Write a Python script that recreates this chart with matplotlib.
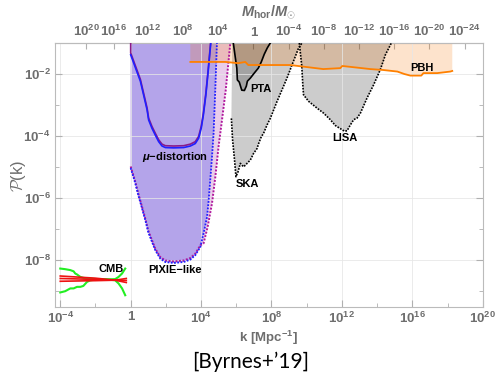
import numpy as np
import matplotlib
matplotlib.use('Agg')
import matplotlib.pyplot as plt
from matplotlib.ticker import FixedLocator, NullLocator, NullFormatter

plt.rcParams['font.family'] = ['Liberation Sans', 'DejaVu Sans']
plt.rcParams['font.weight'] = 'bold'
plt.rcParams['mathtext.fontset'] = 'custom'
plt.rcParams['mathtext.rm'] = 'Liberation Sans:bold'
plt.rcParams['mathtext.bf'] = 'Liberation Sans:bold'
plt.rcParams['mathtext.it'] = 'Liberation Sans:italic:bold'
plt.rcParams['mathtext.cal'] = 'cmsy10'

# all values are log10(k / Mpc^-1) and log10(P)
cmb_up_logk = [-4.0, -3.72, -3.43, -3.24, -3.15, -3.05, -2.86, -2.69, -2.41, -1.92, -1.35, -0.88, -0.69, -0.49, -0.31]
cmb_up_logP = [-8.27, -8.29, -8.32, -8.36, -8.43, -8.46, -8.54, -8.57, -8.59, -8.61, -8.62, -8.61, -8.54, -8.43, -8.27]
cmb_lo_logk = [-4.0, -3.72, -3.43, -3.24, -3.05, -2.86, -2.69, -2.48, -2.30, -1.92, -1.35, -0.88, -0.69, -0.49, -0.31]
cmb_lo_logP = [-9.04, -9.00, -8.91, -8.91, -8.86, -8.86, -8.83, -8.70, -8.65, -8.62, -8.62, -8.65, -8.75, -8.91, -9.13]
red_logk = [-4.0, -2.0, -0.88, -0.25]
red_a = [-8.51, -8.58, -8.645, -8.72]
red_b = [-8.68, -8.66, -8.645, -8.59]
red_c = [-8.59, -8.62, -8.645, -8.655]

pixie_logk = [0.0, 0.26, 0.43, 0.64, 0.83, 1.0, 1.21, 1.40, 1.68, 1.97, 2.44, 3.01, 3.39, 3.67, 3.96,
              4.14, 4.34, 4.43, 4.52, 4.62, 4.71, 4.81, 4.90]
pixie_logP = [-5.03, -5.52, -5.90, -6.32, -6.71, -7.10, -7.41, -7.68, -7.95, -8.06, -8.09, -8.06, -7.98, -7.84, -7.57,
              -7.14, -6.60, -6.07, -5.42, -4.67, -3.91, -2.45, -1.0]
# right branch of the second (magenta) PIXIE curve
mag_logk = [4.14, 4.37, 4.62, 4.81, 4.99, 5.15, 5.40, 5.66]
mag_logP = [-7.46, -6.93, -6.17, -5.31, -4.35, -3.65, -2.52, -1.0]

mu_logk = [0.0, 0.55, 0.93, 1.02, 1.21, 1.40, 1.59, 1.78, 1.97, 2.44, 3.01, 3.39, 3.67, 3.86, 4.01, 4.13, 4.27, 4.41, 4.55]
mu_logP = [-1.38, -2.23, -3.15, -3.48, -3.75, -3.97, -4.18, -4.32, -4.37, -4.38, -4.37, -4.32, -4.24, -4.07, -3.74,
           -3.32, -2.68, -1.87, -1.0]

pbh_logk = [3.39, 5.38, 6.11, 6.51, 6.68, 8.22, 9.07, 10.94, 11.91, 12.02, 13.61, 14.35, 15.15, 15.55, 15.89, 16.51,
            16.63, 17.42, 18.16, 18.27]
pbh_logP = [-1.61, -1.61, -1.65, -1.61, -1.71, -1.71, -1.71, -1.84, -1.81, -1.74, -1.84, -1.87, -1.92, -2.0, -2.05,
            -2.05, -1.97, -1.97, -1.92, -1.90]

pta_logk = [5.83, 5.94, 6.03, 6.06, 6.17, 6.31, 6.46, 6.57, 6.63, 6.80, 7.02, 7.25, 7.42, 7.59, 7.76, 7.93]
pta_logP = [-1.0, -1.45, -1.81, -2.19, -2.26, -2.52, -2.53, -2.39, -2.23, -2.13, -1.97, -1.81, -1.61, -1.36, -1.16, -1.0]

ska_logk = [5.77, 5.72, 5.79, 5.90, 5.98, 6.10, 6.23, 6.32, 6.42, 6.61, 6.80, 6.98, 7.18, 7.27, 7.42, 7.55, 7.74,
            7.93, 8.12, 8.31, 8.40, 8.88, 9.17, 9.54, 9.73]
ska_logP = [-1.0, -3.43, -4.13, -4.77, -5.31, -5.15, -4.88, -4.94, -4.99, -4.88, -4.77, -4.56, -4.40, -4.24, -4.02,
            -3.91, -3.65, -3.43, -3.16, -2.89, -2.77, -2.13, -1.70, -1.16, -1.0]

lisa_logk = [9.58, 9.72, 9.78, 9.82, 10.11, 10.59, 10.96, 11.34, 11.63, 11.91, 12.14, 12.29, 12.48, 12.67, 12.86,
             13.05, 13.43, 13.80, 14.18, 14.47, 14.81]
lisa_logP = [-1.0, -1.74, -2.36, -2.67, -2.88, -3.10, -3.26, -3.47, -3.66, -3.76, -3.84, -3.83, -3.64, -3.47, -3.42,
             -3.26, -2.77, -2.35, -1.86, -1.38, -1.0]

x_ticks = [-4, 0, 4, 8, 12, 16, 20]
y_ticks = [-8, -6, -4, -2]
M_ticks = [20, 16, 12, 8, 4, 0, -4, -8, -12, -16, -20, -24]

labels = {'CMB': (-1.13, -8.27), 'PIXIE\u2212like': (2.53, -8.32), r'$\mu$' + '\u2212distortion': (2.53, -4.68),
          'SKA': (6.65, -5.55), 'LISA': (12.19, -4.06), 'PTA': (7.39, -2.48), 'PBH': (16.54, -1.81)}

P_TOP = 10 ** -1.0
P_BOT = 10 ** -9.5
GRAY = '#6e6e6e'


def p10(a):
    return 10 ** np.asarray(a, dtype=float)


# horizon mass vs k (k^-2 in radiation era, steeper in matter era)
def k_to_M(k):
    k = np.clip(np.asarray(k, dtype=float), 1e-12, None)
    return 10 ** (2 * (6.97 - np.log10(k))) * (1 + 0.03 / k)


_lk = np.linspace(-10, 30, 4001)
_lM = np.log10(k_to_M(10 ** _lk))


def M_to_k(M):
    M = np.clip(np.asarray(M, dtype=float), 1e-300, None)
    return 10 ** np.interp(np.log10(M), _lM[::-1], _lk[::-1])


fig = plt.figure(figsize=(4.95, 3.75), dpi=100)
ax = fig.add_axes([0.1111, 0.1821, 0.8641, 0.7032])
ax.set_xscale('log')
ax.set_yscale('log')
ax.set_xlim(10 ** -4.3, 1e20)
ax.set_ylim(P_BOT, P_TOP)

# PIXIE (magenta variant underneath, then blue)
pk = p10(pixie_logk)
pp = p10(pixie_logP)
n_left = pixie_logk.index(3.96)
mk = np.concatenate([pk[:n_left + 1], p10(mag_logk)])
mp = np.concatenate([pp[:n_left + 1] * 10 ** 0.05, p10(mag_logP)])
ax.fill(np.concatenate([[mk[0]], mk, [mk[-1]]]), np.concatenate([[P_TOP], mp, [P_TOP]]),
        color='#e9cdea', lw=0, zorder=1)
ax.fill(np.concatenate([[pk[0]], pk, [pk[-1]]]), np.concatenate([[P_TOP], pp, [P_TOP]]),
        color='#b4a4ea', lw=0, zorder=1.1)
ax.plot(mk, mp, color='#b0189c', lw=1.4, ls=(0, (1, 0.8)), zorder=3)
ax.plot(pk, pp, color='#2020ff', lw=1.3, ls=(0, (1, 0.8)), zorder=3.1)

# mu distortion (the purple twin reaches the top edge)
muk = p10(mu_logk)
mup = p10(mu_logP)
ax.plot(np.insert(muk, 0, muk[0]), np.insert(mup * 10 ** 0.06, 0, P_TOP), color='#8a1a8a', lw=1.2, zorder=3)
ax.plot(muk, mup, color='#2020ff', lw=1.2, zorder=3.1)

# GW experiments
sk, sp = p10(ska_logk), p10(ska_logP)
ax.fill(np.append(sk, sk[0]), np.append(sp, P_TOP), color='black', alpha=0.2, lw=0, zorder=1.2)
ax.plot(sk[1:], sp[1:], color='black', lw=1.2, ls=(0, (1, 0.8)), zorder=3)

lk, lp = p10(lisa_logk), p10(lisa_logP)
ax.fill(lk, lp, color='black', alpha=0.2, lw=0, zorder=1.2)
ax.plot(lk, lp, color='black', lw=1.2, ls=(0, (1, 0.8)), zorder=3)

tk, tp = p10(pta_logk), p10(pta_logP)
ax.fill(tk, tp, color='black', alpha=0.2, lw=0, zorder=1.2)
ax.plot(tk, tp, color='black', lw=1.2, zorder=3)

# PBH
bk, bp = p10(pbh_logk), p10(pbh_logP)
ax.fill(np.concatenate([[bk[0]], bk, [bk[-1]]]), np.concatenate([[P_TOP], bp, [P_TOP]]),
        color='#f67300', alpha=0.2, lw=0, zorder=1.3)
ax.plot(bk, bp, color='#ff8000', lw=1.3, zorder=3.2)

# CMB
ax.plot(p10(cmb_up_logk), p10(cmb_up_logP), color='#22ee22', lw=1.5, zorder=3)
ax.plot(p10(cmb_lo_logk), p10(cmb_lo_logP), color='#22ee22', lw=1.5, zorder=3)
for r in (red_a, red_b, red_c):
    ax.plot(p10(red_logk), p10(r), color='#ee1111', lw=1.2, zorder=3.1)

for txt, (lx, ly) in labels.items():
    ax.text(10 ** lx, 10 ** ly, txt, fontsize=8, fontweight='bold', ha='center', va='center', zorder=5)

# axes cosmetics
ax.set_axisbelow('line')
ax.xaxis.set_major_locator(FixedLocator([10.0 ** t for t in x_ticks]))
ax.xaxis.set_minor_locator(FixedLocator([10.0 ** (t + 2) for t in x_ticks[:-1]]))
ax.xaxis.set_minor_formatter(NullFormatter())
ax.set_xticklabels(['1' if t == 0 else '$10^{%d}$' % t for t in x_ticks])
ax.yaxis.set_major_locator(FixedLocator([10.0 ** t for t in y_ticks]))
ax.yaxis.set_minor_locator(FixedLocator([10.0 ** (t - 1) for t in y_ticks]))
ax.yaxis.set_minor_formatter(NullFormatter())
ax.set_yticklabels(['$10^{%d}$' % t for t in y_ticks])
ax.grid(True, which='major', color='#e6e6e6', lw=0.7, alpha=0.8)
ax.tick_params(which='both', direction='in', colors='#b0b0b0', labelcolor=GRAY, labelsize=9.5,
               right=True, top=False, pad=3)
ax.tick_params(which='major', length=5)
ax.tick_params(which='minor', length=3)
for s in ax.spines.values():
    s.set_color('#bbbbbb')

sec = ax.secondary_xaxis('top', functions=(k_to_M, M_to_k))
sec.xaxis.set_major_locator(FixedLocator([10.0 ** t for t in M_ticks]))
sec.xaxis.set_minor_locator(NullLocator())
sec.xaxis.set_minor_formatter(NullFormatter())
sec.set_xticklabels(['1' if t == 0 else '$10^{%d}$' % t for t in M_ticks])
sec.tick_params(direction='in', colors='#b0b0b0', labelcolor=GRAY, labelsize=9.5, length=4, pad=3)
sec.spines['top'].set_color('#bbbbbb')

fig.text(268.8 / 495, 1 - 338 / 375, 'k [Mpc$^{-1}$]', color=GRAY, fontsize=9.5, ha='center', va='center')
fig.text(18.5 / 495, 1 - 176 / 375, r'$\mathcal{P}$(k)', color=GRAY, fontsize=12, ha='center', va='center',
         rotation=90, fontweight='normal')
fig.text(268 / 495, 1 - 12 / 375, r'$M_{\mathrm{hor}}/M_{\odot}$', color=GRAY, fontsize=10.5, ha='center', va='center')
fig.text(251 / 495, 1 - 362 / 375, '[Byrnes+\u201919]', fontsize=15, fontweight='normal', family='Lato',
         ha='center', va='center', color='black')

fig.savefig('out.png', dpi=100)
